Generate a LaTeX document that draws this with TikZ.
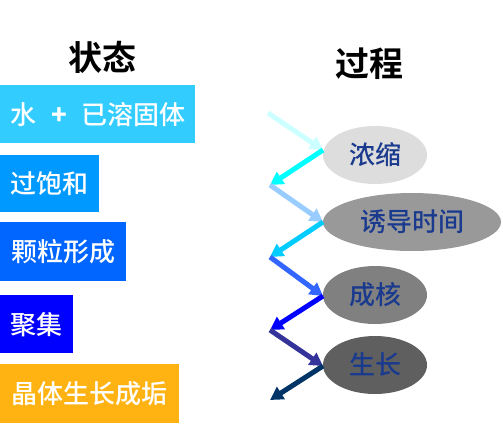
\documentclass[tikz,border=0pt]{standalone}
\usepackage{fontspec}
\setmainfont{Noto Sans CJK SC}[BoldFont={Noto Sans CJK SC Bold}]
\newfontfamily\midfont{Noto Sans CJK SC Medium}
\usetikzlibrary{shapes.geometric,arrows.meta}
\definecolor{cA}{HTML}{33CCFF}
\definecolor{cB}{HTML}{0099FF}
\definecolor{cC}{HTML}{0066FF}
\definecolor{cD}{HTML}{0000FF}
\definecolor{cE}{HTML}{FFB312}
\definecolor{eA}{HTML}{DDDDDD}
\definecolor{eB}{HTML}{999999}
\definecolor{eC}{HTML}{808080}
\definecolor{eD}{HTML}{5F5F5F}
\definecolor{etext}{HTML}{1A3A8E}
\definecolor{a1}{HTML}{CCFFFF}
\definecolor{a2}{HTML}{00FFFF}
\definecolor{a3}{HTML}{99CCFF}
\definecolor{a4}{HTML}{00CCFF}
\definecolor{a5}{HTML}{3366FF}
\definecolor{a6}{HTML}{0000FF}
\definecolor{a7}{HTML}{333399}
\definecolor{a8}{HTML}{003366}
\tikzset{
  statebox/.style={anchor=north west, inner sep=0pt, text=white,
    font=\midfont\fontsize{26}{30}\selectfont},
  procell/.style={ellipse, inner sep=0pt, minimum width=104pt, minimum height=58pt,
    text=etext, font=\midfont\fontsize{26}{30}\selectfont},
  title/.style={font=\bfseries\fontsize{34}{40}\selectfont, text=black},
  zz/.style={line width=5pt, -{Triangle[length=13pt,width=14pt]}},
}
\begin{document}
\begin{tikzpicture}[x=1pt,y=-1pt]
\useasboundingbox (0,0) rectangle (503,423);
\node[title] (t1) at (102,57) {状态};
\node[title] (t2) at (369,64) {过程};
\node[statebox, fill=cA, minimum width=195pt, minimum height=58pt] (s1) at (0,85) {水\hspace{15pt}{\bfseries +}\hspace{14pt}已溶固体};
\node[statebox, fill=cB, minimum width=99pt, minimum height=57pt] (s2) at (0,155) {过饱和};
\node[statebox, fill=cC, minimum width=126pt, minimum height=59pt] (s3) at (0,222) {颗粒形成};
\node[statebox, fill=cD, minimum width=73pt, minimum height=58pt] (s4) at (0,295) {聚集};
\node[statebox, fill=cE, minimum width=179pt, minimum height=59pt] (s5) at (0,364) {晶体生长成垢};
\node[procell, fill=eA] (p1) at (375,155) {浓缩};
\node[procell, fill=eB, minimum width=178pt] (p2) at (412,222) {诱导时间};
\node[procell, fill=eC] (p3) at (375,295) {成核};
\node[procell, fill=eD] (p4) at (375,365) {生长};
\coordinate (L0) at (268,113);
\coordinate (L1) at (270,185);
\coordinate (L2) at (270,257);
\coordinate (L3) at (270,330);
\coordinate (L4) at (270,400);
\coordinate (R1) at (323,150);
\coordinate (R2) at (323,222);
\coordinate (R3) at (323,296);
\coordinate (R4) at (323,366);
\draw[zz, a1] (L0) -- (R1);
\draw[zz, a2] (R1) -- (L1);
\draw[zz, a3] (L1) -- (R2);
\draw[zz, a4] (R2) -- (L2);
\draw[zz, a5] (L2) -- (R3);
\draw[zz, a6] (R3) -- (L3);
\draw[zz, a7] (L3) -- (R4);
\draw[zz, a8] (R4) -- (L4);
\end{tikzpicture}
\end{document}
